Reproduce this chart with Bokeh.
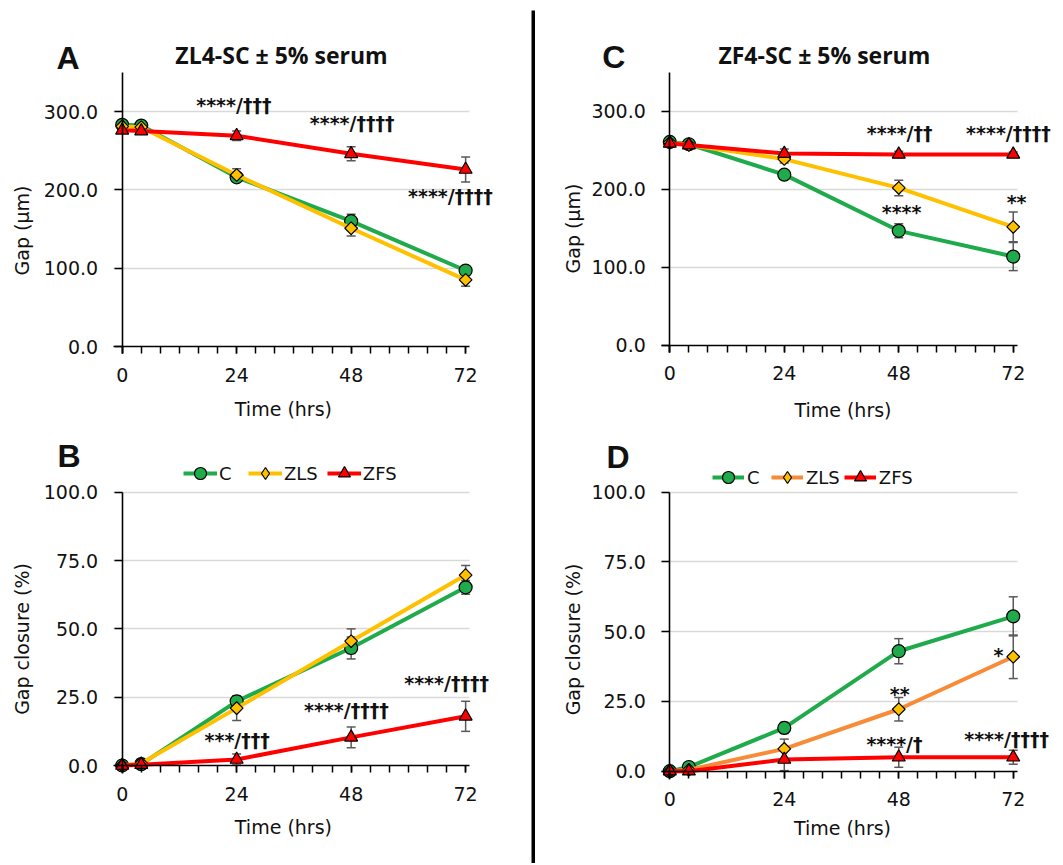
import math
from bokeh.plotting import figure
from bokeh.models import (FixedTicker, Label, Legend, LegendItem, Range1d, Spacer,
                          PrintfTickFormatter)
from bokeh.layouts import row, column
from bokeh.embed import file_html
from bokeh.resources import INLINE

# ---------------- data ----------------
times = [0, 4, 24, 48, 72]
series = ["C", "ZLS", "ZFS"]

# Panel A: ZL4-SC gap (um)
a_c = [283, 282, 216, 160, 97]
a_c_err = [3, 3, 5, 9, 6]
a_zls = [281, 280, 219, 151, 85]
a_zls_err = [3, 3, 8, 10, 8]
a_zfs = [276, 275, 269, 246, 226]
a_zfs_err = [3, 3, 6, 9, 16]

# Panel B: ZL4-SC gap closure (%)
b_c = [0, 0.5, 23.5, 43, 65.2]
b_c_err = [0.5, 1.5, 1.5, 4, 2.5]
b_zls = [0, 0.8, 21, 45.5, 69.7]
b_zls_err = [0.5, 1.5, 4.5, 4.5, 3.5]
b_zfs = [0, 0.3, 2.2, 10.3, 18]
b_zfs_err = [0.5, 1.5, 2, 3.8, 5.5]

# Panel C: ZF4-SC gap (um)
c_c = [261, 258, 219, 147, 114]
c_c_err = [3, 3, 4, 9, 18]
c_zls = [260, 257, 239, 202, 152]
c_zls_err = [3, 3, 5, 10, 19]
c_zfs = [259, 257, 246, 245, 245]
c_zfs_err = [3, 3, 6, 4, 3]

# Panel D: ZF4-SC gap closure (%)
d_c = [0, 1.5, 15.5, 43, 55.5]
d_c_err = [0.5, 1.5, 2, 4.5, 7]
d_zls = [0, 0.5, 8, 22.2, 41]
d_zls_err = [0.5, 1, 3.5, 4.2, 7.8]
d_zfs = [0, 0, 4.2, 5, 5]
d_zfs_err = [0.5, 0.5, 4, 3.6, 2.5]

gap_ticks = [0, 100, 200, 300]
pct_ticks = [0, 25, 50, 75, 100]
x_labels = [0, 24, 48, 72]
x_minor = [0, 4, 8, 12, 16, 20, 24, 28, 32, 36, 40, 44, 48, 52, 56, 60, 64, 68, 72]

# significance annotations: (text, hour, value)
a_notes = [("****/\u2020\u2020\u2020", 23.4, 308.9), ("****/\u2020\u2020\u2020\u2020", 48.2, 284.7),
           ("****/\u2020\u2020\u2020\u2020", 68.8, 192.7)]
b_notes = [("***/\u2020\u2020\u2020", 24.1, 9.2), ("****/\u2020\u2020\u2020\u2020", 47.0, 20.3),
           ("****/\u2020\u2020\u2020\u2020", 68.0, 30.2)]
c_notes = [("****/\u2020\u2020", 48.2, 271.8), ("****/\u2020\u2020\u2020\u2020", 71.0, 271.8),
           ("**", 72.7, 184.1), ("****", 48.6, 171.3)]
d_notes = [("*", 68.9, 41.6), ("**", 48.2, 27.8), ("****/\u2020", 47.1, 9.9),
           ("****/\u2020\u2020\u2020\u2020", 70.6, 11.4)]

GREEN = "#1fab4b"
YELLOW = "#ffc000"
ORANGE = "#f88b37"
RED = "#ff0000"
ERR = "#595959"
TXT = "#111111"
FONT = "DejaVu Sans"


def label(p, x, y, text, size, font=FONT, bold=False, angle=0.0):
    p.add_layout(Label(x=x, y=y, text=text, text_font=font, text_font_size=size,
                       text_font_style="bold" if bold else "normal",
                       text_align="center", text_baseline="middle",
                       angle=angle, text_color=TXT))


def panel(w, h, xr, yr, ybounds, yticks, data, zls_line, letter, letter_xy,
          ylab, ylab_xy, xlab_xy, notes, title=None, title_xy=None, legend=None):
    p = figure(width=w, height=h, x_range=Range1d(*xr), y_range=Range1d(*yr),
               min_border=0, toolbar_location=None, output_backend="svg")
    p.title.visible = False
    p.outline_line_color = None
    p.background_fill_color = "white"
    p.border_fill_color = "white"

    xa = p.xaxis[0]
    xa.fixed_location = 0
    xa.bounds = (-1.8, 72.8)
    xa.ticker = FixedTicker(ticks=x_labels, minor_ticks=x_minor)
    xa.major_tick_out = 7
    xa.major_tick_in = 0
    xa.minor_tick_out = 7
    xa.minor_tick_in = 0
    xa.major_label_standoff = 14

    ya = p.yaxis[0]
    ya.fixed_location = 0
    ya.bounds = ybounds
    ya.ticker = FixedTicker(ticks=yticks, minor_ticks=[])
    ya.formatter = PrintfTickFormatter(format="%.1f")
    ya.major_tick_out = 8
    ya.major_tick_in = 0
    ya.minor_tick_out = 0
    ya.minor_tick_in = 0
    ya.major_label_standoff = 16

    for ax in (xa, ya):
        ax.axis_line_color = "#000000"
        ax.axis_line_width = 1.6
        ax.major_tick_line_color = "#000000"
        ax.major_tick_line_width = 1.5
        ax.minor_tick_line_color = "#000000"
        ax.minor_tick_line_width = 1.5
        ax.major_label_text_font = FONT
        ax.major_label_text_font_size = "19px"
        ax.major_label_text_color = TXT

    p.xgrid.visible = False
    p.ygrid.ticker = FixedTicker(ticks=yticks[1:], minor_ticks=[])
    p.ygrid.cross_bounds = (-1.8, 72.8)
    p.ygrid.grid_line_color = "#d9d9d9"
    p.ygrid.grid_line_width = 1.3

    (vc, ec), (vz, ez), (vf, ef) = data
    # error bars first (behind lines and markers)
    for vals, errs in ((vc, ec), (vz, ez), (vf, ef)):
        lo = [v - e for v, e in zip(vals, errs)]
        hi = [v + e for v, e in zip(vals, errs)]
        p.segment(x0=times, y0=lo, x1=times, y1=hi, line_color=ERR, line_width=1.5)
        p.scatter(x=times + times, y=lo + hi, marker="dash", size=9,
                  line_color=ERR, line_width=1.5)

    rl_c = p.line(times, vc, line_color=GREEN, line_width=4)
    rs_c = p.scatter(times, vc, marker="circle", size=13, fill_color=GREEN,
                     line_color="#000000", line_width=1.2)
    rl_z = p.line(times, vz, line_color=zls_line, line_width=4)
    rs_z = p.scatter(times, vz, marker="square", angle=math.pi / 4, size=9,
                     fill_color=YELLOW, line_color="#000000", line_width=1.2)
    rl_f = p.line(times, vf, line_color=RED, line_width=4)
    rs_f = p.scatter(times, vf, marker="triangle", size=13, fill_color=RED,
                     line_color="#000000", line_width=1.2)

    if legend is not None:
        # legend-only diamond glyph (same data, not drawn in the plot)
        rs_z_leg = p.scatter(times, vz, marker="diamond", size=15,
                             fill_color=YELLOW, line_color="#000000",
                             line_width=1.2, visible=False)
        loc, gw, ls, sp = legend
        lg = Legend(items=[LegendItem(label=series[0], renderers=[rl_c, rs_c]),
                           LegendItem(label=series[1], renderers=[rl_z, rs_z_leg]),
                           LegendItem(label=series[2], renderers=[rl_f, rs_f])],
                    location=loc, orientation="horizontal", glyph_width=gw,
                    glyph_height=30, label_standoff=ls, spacing=sp, padding=0,
                    margin=0, border_line_color=None, background_fill_alpha=0,
                    inactive_fill_alpha=0,
                    label_text_font=FONT, label_text_font_size="18px",
                    label_text_color=TXT, label_height=20)
        p.add_layout(lg, "center")

    for text, x, y in notes:
        label(p, x, y, text, "19px", bold=True)
    label(p, letter_xy[0], letter_xy[1], letter, "32px", font="Liberation Sans", bold=True)
    if title is not None:
        label(p, title_xy[0], title_xy[1], title, "23px", font="Open Sans", bold=True)
    label(p, ylab_xy[0], ylab_xy[1], ylab, "19px", angle=math.pi / 2)
    label(p, xlab_xy[0], xlab_xy[1], "Time (hrs)", "19px")
    return p


pA = panel(531, 430, (-25.51, 85.81), (-107.2, 441.7), (-9, 350), gap_ticks,
           ((a_c, a_c_err), (a_zls, a_zls_err), (a_zfs, a_zfs_err)), YELLOW,
           "A", (-11.36, 368.9), "Gap (\u00b5m)", (-20.9, 148.1), (33.8, -79.2), a_notes,
           title="ZL4-SC \u00b1 5% serum", title_xy=(33.4, 371.5))
pB = panel(531, 433, (-25.51, 85.81), (-35.86, 122.6), (-3, 100), pct_ticks,
           ((b_c, b_c_err), (b_zls, b_zls_err), (b_zfs, b_zfs_err)), YELLOW,
           "B", (-11.15, 113.2), "Gap closure (%)", (-20.9, 46.3), (33.8, -22.6), b_notes,
           legend=((183, 375), 34, 2, 9))
pC = panel(525, 430, (-28.16, 81.91), (-109.0, 442.3), (-9, 350), gap_ticks,
           ((c_c, c_c_err), (c_zls, c_zls_err), (c_zfs, c_zfs_err)), YELLOW,
           "C", (-11.72, 370.5), "Gap (\u00b5m)", (-20.2, 150.0), (36.3, -83.3), c_notes,
           title="ZF4-SC \u00b1 5% serum", title_xy=(32.4, 371.8))
pD = panel(525, 433, (-28.16, 81.91), (-33.08, 122.1), (-3, 100), pct_ticks,
           ((d_c, d_c_err), (d_zls, d_zls_err), (d_zfs, d_zfs_err)), ORANGE,
           "D", (-10.86, 112.6), "Gap closure (%)", (-20.4, 47.2), (36.2, -20.5), d_notes,
           legend=((177, 371), 32, 3, 4))

div = figure(width=4, height=853, toolbar_location=None, output_backend="svg",
             min_border=0, x_range=Range1d(0, 1), y_range=Range1d(0, 1))
div.title.visible = False
div.axis.visible = False
div.grid.visible = False
div.outline_line_color = None
div.background_fill_color = "black"
div.border_fill_color = "black"

layout = row(column(pA, pB), column(Spacer(width=4, height=10), div), column(pC, pD))

with open("out.html", "w") as f:
    f.write(file_html(layout, INLINE))
